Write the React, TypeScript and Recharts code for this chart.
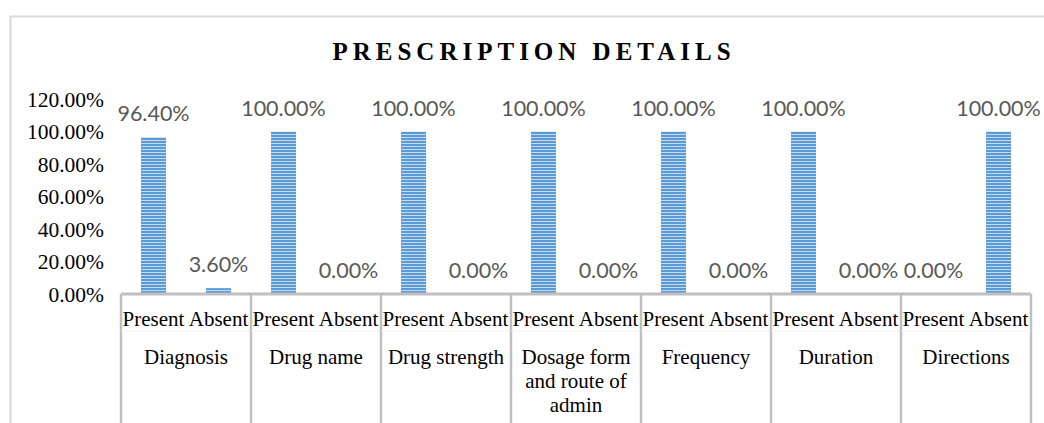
import React from "react"
import { ComposedChart, Bar, Line, XAxis, YAxis, LabelList } from "recharts"

const categories = [
  "Diagnosis",
  "Drug name",
  "Drug strength",
  "Dosage form\nand route of\nadmin",
  "Frequency",
  "Duration",
  "Directions",
]
const statuses = ["Present", "Absent"]
const presentValues = [96.4, 100, 100, 100, 100, 100, 0]
const absentValues = [3.6, 0, 0, 0, 0, 0, 100]
const yTicks = [0, 20, 40, 60, 80, 100, 120]

const rows = categories.flatMap((category, i) => [
  { key: `${category}-${statuses[0]}`, category, status: statuses[0], value: presentValues[i] },
  { key: `${category}-${statuses[1]}`, category, status: statuses[1], value: absentValues[i] },
])

const W = 1044
const H = 423
const LEFT = 121
const RIGHT = 13
const BAND = (W - LEFT - RIGHT) / rows.length

const serif = "'Liberation Serif', 'Times New Roman', serif"
const gridGray = "#bfbfbf"

function CategoryTick(props: any) {
  const { x, y, payload } = props
  const i = payload.index
  const row = rows[i]
  const half = BAND / 2
  const isFirst = i % 2 === 0
  return (
    <g>
      {isFirst && <line x1={x - half} x2={x - half} y1={y} y2={H + 10} stroke={gridGray} strokeWidth={2.5} />}
      {i === rows.length - 1 && (
        <line x1={x + half} x2={x + half} y1={y} y2={H + 10} stroke={gridGray} strokeWidth={2.5} />
      )}
      <line x1={x - half} x2={x + half} y1={y + 37} y2={y + 37} stroke="#f0f0f0" strokeWidth={1} />
      <text x={x} y={y + 32} textAnchor="middle" fontFamily={serif} fontSize={21} fill="#000">
        {row.status}
      </text>
      {isFirst && (
        <text x={x + half} y={y + 70} textAnchor="middle" fontFamily={serif} fontSize={21} fill="#000">
          {row.category.split("\n").map((line, k) => (
            <tspan key={k} x={x + half} dy={k === 0 ? 0 : 24}>
              {line}
            </tspan>
          ))}
        </text>
      )}
    </g>
  )
}

export default function App() {
  return (
    <div style={{ position: "absolute", left: 0, top: 0, width: W, height: H, overflow: "hidden", background: "#fff" }}>
      <svg width={W} height={H} style={{ position: "absolute", left: 0, top: 0 }}>
        <defs>
          <pattern id="stripes" width="4" height="3" patternUnits="userSpaceOnUse">
            <rect width="4" height="3" fill="#5b9bd5" />
            <rect y="2" width="4" height="1" fill="#c3daf1" />
          </pattern>
        </defs>
        <path d={`M10.5 ${H + 5} V16.5 H${W + 5}`} fill="none" stroke="#d9d9d9" strokeWidth={2} />
        <text
          x={534}
          y={60}
          textAnchor="middle"
          fontFamily={serif}
          fontWeight="bold"
          fontSize={25}
          letterSpacing={5}
          fill="#000"
        >
          PRESCRIPTION DETAILS
        </text>
      </svg>
      <div style={{ position: "absolute", left: 0, top: 0 }}>
        <ComposedChart width={W} height={H} data={rows} margin={{ top: 99, right: RIGHT, bottom: 0, left: 0 }}>
          <XAxis
            dataKey="key"
            interval={0}
            height={H - 294}
            tickLine={false}
            tickSize={0}
            tickMargin={0}
            axisLine={{ stroke: gridGray, strokeWidth: 3 }}
            tick={<CategoryTick />}
          />
          <YAxis
            width={LEFT}
            domain={[0, 120]}
            ticks={yTicks}
            interval={0}
            axisLine={false}
            tickLine={false}
            tickSize={0}
            tickMargin={17}
            tickFormatter={(v: number) => `${v.toFixed(2)}%`}
            tick={{ fill: "#000", fontFamily: serif, fontSize: 21.5 }}
          />
          <Bar dataKey="value" barSize={25} fill="url(#stripes)" isAnimationActive={false} />
          <Line
            dataKey="value"
            stroke="none"
            dot={false}
            activeDot={false}
            legendType="none"
            isAnimationActive={false}
          >
            <LabelList
              dataKey="value"
              position="top"
              offset={16}
              formatter={(v: any) => `${Number(v).toFixed(2)}%`}
              fill="#595959"
              fontFamily="Lato, 'Open Sans', sans-serif"
              fontSize={21.5}
            />
          </Line>
        </ComposedChart>
      </div>
    </div>
  )
}
